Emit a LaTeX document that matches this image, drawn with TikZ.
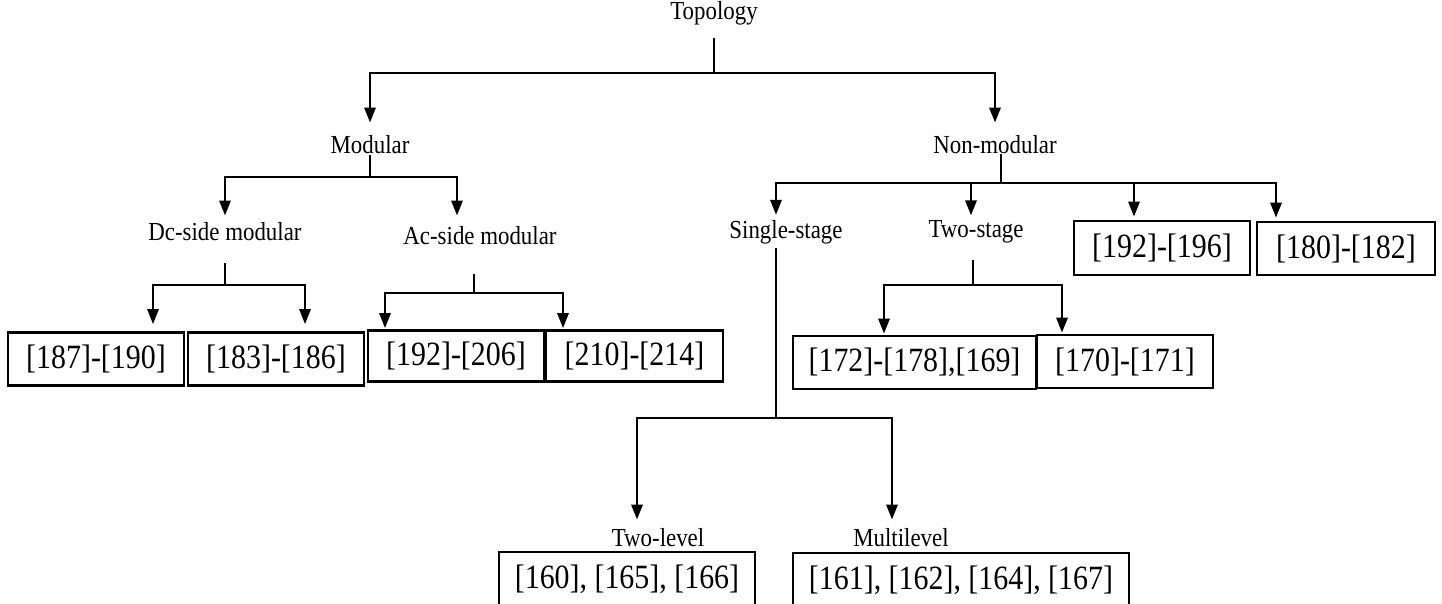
\documentclass[tikz,border=0pt]{standalone}
\usepackage{fontspec}
\setmainfont{Liberation Serif}[FakeStretch=0.88]
\usetikzlibrary{arrows.meta}
\tikzset{lbl/.style={inner sep=0pt, font=\fontsize{26}{26}\selectfont}}
\tikzset{refbox/.style={draw, line width=2.6pt, inner sep=0pt, minimum height=53pt, font=\fontsize{34}{34}\selectfont}}
\tikzset{wire/.style={line width=2.8pt}}
\tikzset{arr/.style={wire, -{Triangle[length=15pt,width=11pt]}}}

\begin{document}
\begin{tikzpicture}[x=1pt,y=-1pt]
  \clip (0,0) rectangle (1442,603);
  % labels
  \node[lbl] (topo) at (714,13) {Topology};
  \node[lbl] (mod) at (370,145) {Modular};
  \node[lbl] (nmod) at (995,145) {Non-modular};
  \node[lbl] (dcs) at (225,232) {Dc-side modular};
  \node[lbl] (acs) at (480,236) {Ac-side modular};
  \node[lbl] (sgl) at (786,232) {Single-stage};
  \node[lbl] (tws) at (976,232) {Two-stage};
  \node[lbl] (tlv) at (658,538) {Two-level};
  \node[lbl] (mlv) at (901,538) {Multilevel};
  % reference boxes
  \node[refbox, minimum width=176pt] (r187) at (96,359) {[187]-[190]};
  \node[refbox, minimum width=176pt] (r183) at (276,359) {[183]-[186]};
  \node[refbox, minimum width=176pt, minimum height=51pt] (r192) at (456,356) {[192]-[206]};
  \node[refbox, minimum width=177pt, minimum height=51pt] (r210) at (634.5,356) {[210]-[214]};
  \node[refbox, minimum width=176pt, minimum height=54pt] (r196) at (1162,248) {[192]-[196]};
  \node[refbox, minimum width=178pt] (r180) at (1346,248.5) {[180]-[182]};
  \node[refbox, minimum width=243pt] (r172) at (914.5,362.5) {[172]-[178],[169]};
  \node[refbox, minimum width=176pt] (r170) at (1125,361.5) {[170]-[171]};
  \node[refbox, minimum width=256pt, minimum height=54pt] (r160) at (627,579) {[160], [165], [166]};
  \node[refbox, minimum width=336pt, minimum height=54pt] (r161) at (961,580) {[161], [162], [164], [167]};
  % junctions
  \coordinate (jTopo) at (714,73);
  \coordinate (jMod) at (370,177);
  \coordinate (jDcs) at (225,285);
  \coordinate (jAcs) at (474,293);
  \coordinate (jNmod) at (1001,183);
  \coordinate (jTws) at (973,285);
  \coordinate (jSgl) at (776,418);
  % Topology
  \draw[wire, shorten <=13pt] (topo.south) -- (jTopo);
  \draw[arr, shorten >=13pt] (jTopo) -| (mod.north);
  \draw[arr, shorten >=13pt] (jTopo) -| (nmod.north);
  % Modular
  \draw[wire, shorten <=1pt] (mod.south) -- (jMod);
  \draw[arr, shorten >=7pt] (jMod) -| (dcs.north);
  \draw[arr, shorten >=11pt] (jMod) -| ([xshift=-23pt]acs.north);
  \draw[wire, shorten <=22pt] (dcs.south) -- (jDcs);
  \draw[arr, shorten >=7pt] (jDcs) -| ([xshift=57pt]r187.north);
  \draw[arr, shorten >=7pt] (jDcs) -| ([xshift=29pt]r183.north);
  \draw[wire, shorten <=29pt] ([xshift=-6pt]acs.south) -- (jAcs);
  \draw[arr, shorten >=1pt] (jAcs) -| ([xshift=-71pt]r192.north);
  \draw[arr, shorten >=1pt] (jAcs) -| ([xshift=-71.5pt]r210.north);
  % Non-modular
  \draw[wire] ([xshift=6pt]nmod.south) -- (jNmod);
  \draw[arr, shorten >=5pt] (jNmod) -| ([xshift=-10pt]sgl.north);
  \draw[arr, shorten >=5pt] (jNmod) -| ([xshift=-5pt]tws.north);
  \draw[arr, shorten >=3pt] (jNmod) -| ([xshift=-28pt]r196.north);
  \draw[arr, shorten >=3pt] (jNmod) -| ([xshift=-70pt]r180.north);
  \draw[wire, shorten <=16pt] ([xshift=-3pt]tws.south) -- (jTws);
  \draw[arr, shorten >=1pt] (jTws) -| ([xshift=-30.5pt]r172.north);
  \draw[arr, shorten >=1pt] (jTws) -| ([xshift=-63pt]r170.north);
  \draw[wire, shorten <=4pt] ([xshift=-10pt]sgl.south) -- (jSgl);
  \draw[arr, shorten >=9pt] (jSgl) -| ([xshift=-21pt]tlv.north);
  \draw[arr, shorten >=9pt] (jSgl) -| ([xshift=-9pt]mlv.north);
\end{tikzpicture}
\end{document}
